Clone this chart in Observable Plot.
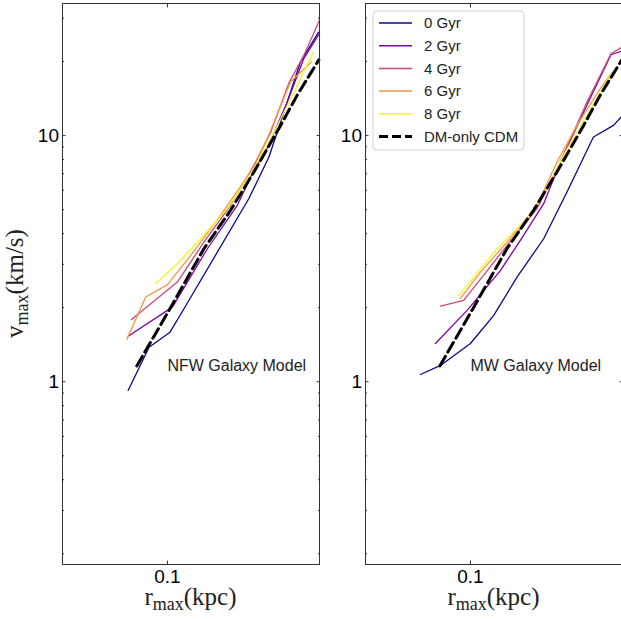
<!DOCTYPE html>
<html><head><meta charset="utf-8">
<script src="https://cdn.jsdelivr.net/npm/d3@7"></script>
<script src="https://cdn.jsdelivr.net/npm/@observablehq/plot@0.6"></script>
<style>
body{margin:0;background:#fff}
#wrap{position:relative;width:621px;height:619px;overflow:hidden;background:#fff}
.panel{position:absolute;top:0}
</style></head><body><div id="wrap"></div>
<script>
// ---- data (r_max in kpc, v_max in km/s) ----
const ages = ["0 Gyr", "2 Gyr", "4 Gyr", "6 Gyr", "8 Gyr"];
const ageColors = ["#0d0887", "#7e03a8", "#cc4778", "#f89540", "#f0f921"];
const cdmLabel = "DM-only CDM";

const nfw0 = [[0.0696,0.922],[0.0844,1.38],[0.1024,1.59],[0.1165,1.98],[0.212,5.55],[0.255,8.18],[0.275,10.3],[0.341,19.9],[0.403,26.3]];
const nfw2 = [[0.0696,1.53],[0.1047,2.01],[0.1445,3.47],[0.1905,5.21],[0.222,7.23],[0.251,8.88],[0.302,13.7],[0.352,20.6],[0.4065,26.0]];
const nfw4 = [[0.0718,1.79],[0.1096,2.54],[0.140,3.69],[0.179,5.21],[0.222,7.57],[0.259,10.3],[0.306,16.3],[0.352,21.2],[0.4065,29.4]];
const nfw6 = [[0.0688,1.49],[0.0819,2.21],[0.100,2.48],[0.124,3.26],[0.1633,4.74],[0.222,7.45],[0.251,9.72],[0.311,16.5],[0.377,19.9]];
const nfw8 = [[0.0898,2.50],[0.1096,3.02],[0.1359,3.81],[0.1738,5.05],[0.222,7.34],[0.267,10.3],[0.321,15.0],[0.384,21.8]];

const mw0 = [[0.0631,1.07],[0.0759,1.165],[0.1,1.43],[0.124,1.86],[0.1537,2.66],[0.1965,3.81],[0.2436,5.90],[0.311,9.87],[0.374,11.0],[0.4018,11.9]];
const mw2 = [[0.0724,1.43],[0.097,1.95],[0.1318,2.83],[0.1585,3.75],[0.1965,5.29],[0.229,7.81],[0.293,13.3],[0.3654,21.3],[0.4018,22.0]];
const mw4 = [[0.0759,2.03],[0.094,2.14],[0.113,2.71],[0.1402,3.58],[0.1848,5.05],[0.229,7.81],[0.293,13.7],[0.3654,21.5],[0.4018,22.8]];
const mw6 = [[0.0912,2.18],[0.1096,2.79],[0.1402,3.69],[0.1848,5.21],[0.2222,7.81],[0.2672,11.0],[0.331,15.5],[0.37,18.1]];
const mw8 = [[0.0898,2.24],[0.128,3.47],[0.1686,4.60],[0.2027,6.09],[0.236,8.32],[0.293,12.1],[0.37,18.1]];

const cdm = [[0.0754,1.16],[0.1,1.9],[0.14,3.47],[0.179,4.97],[0.222,7.11],[0.284,11.0],[0.331,14.6],[0.404,20.3]];

const xDomain = [0.038, 0.4065];
const yDomain = [0.181, 34.4];
const xMajor = [0.1];
const yMajor = [1, 10];
const yMinor = [0.2,0.3,0.4,0.5,0.6,0.7,0.8,0.9,2,3,4,5,6,7,8,9,20,30];
const panels = [
  {name: "NFW Galaxy Model", series: [nfw0, nfw2, nfw4, nfw6, nfw8], ylabel: true},
  {name: "MW Galaxy Model", series: [mw0, mw2, mw4, mw6, mw8], ylabel: false}
];
const annotPos = {r: 0.1, v: 1.16};

const wrap = document.getElementById("wrap");
const W = 330, H = 619, mL = 62, mR = 11, mT = 3, mB = 55;
const serif = "'Liberation Serif', 'DejaVu Serif', serif";
const sans = "'Liberation Sans', 'DejaVu Sans', sans-serif";

panels.forEach((p, pi) => {
  const rows = [];
  p.series.forEach((s, i) => s.forEach(([r, v]) => rows.push({age: ages[i], r, v})));
  const cdmRows = cdm.map(([r, v]) => ({r, v}));
  const chart = Plot.plot({
    width: W, height: H,
    marginLeft: mL, marginRight: mR, marginTop: mT, marginBottom: mB,
    x: {type: "log", domain: xDomain, axis: null},
    y: {type: "log", domain: yDomain, axis: null},
    color: {domain: ages, range: ageColors},
    style: {fontFamily: sans, fontSize: "19px", color: "#000", background: "transparent", overflow: "visible"},
    marks: [
      Plot.line(rows, {x: "r", y: "v", z: "age", stroke: "age", strokeWidth: 1.3}),
      Plot.line(cdmRows, {x: "r", y: "v", stroke: "#000", strokeWidth: 3, strokeDasharray: "11,5"}),
      Plot.text([{...annotPos, label: p.name}], {x: "r", y: "v", text: "label", textAnchor: "start", lineAnchor: "middle", fontSize: 16, fill: "#222"}),
      Plot.axisY(yMajor, {anchor: "left", tickSize: -3.5, tickPadding: 7, tickFormat: d => String(d), label: null, stroke: "#333"}),
      Plot.axisY(yMinor, {anchor: "left", tickSize: -2, tickFormat: () => "", label: null, stroke: "#333"}),
      Plot.axisY(yMajor, {anchor: "right", tickSize: -3.5, tickFormat: () => "", label: null, stroke: "#333"}),
      Plot.axisY(yMinor, {anchor: "right", tickSize: -2, tickFormat: () => "", label: null, stroke: "#333"}),
      Plot.axisX(xMajor, {anchor: "bottom", tickSize: -3.5, tickPadding: 8.5, tickFormat: d => String(d), label: null, stroke: "#333"}),
      Plot.axisX(xMajor, {anchor: "top", tickSize: -3.5, tickFormat: () => "", label: null, stroke: "#333"}),
      Plot.frame({stroke: "#333", strokeWidth: 1})
    ]
  });
  chart.classList.add("panel");
  chart.style.left = (pi * 303) + "px";
  wrap.appendChild(chart);
  const svg = d3.select(chart);
  // x axis label r_max(kpc)
  const cx = mL + (W - mL - mR) / 2;
  const xt = svg.append("text").attr("x", cx).attr("y", 605).attr("text-anchor", "middle")
    .attr("font-family", serif).attr("font-size", 25).attr("fill", "#222");
  xt.append("tspan").text("r");
  xt.append("tspan").attr("font-size", 18).attr("dy", 5).text("max");
  xt.append("tspan").attr("dy", -5).text("(kpc)");
  if (p.ylabel) {
    const cy = mT + (H - mT - mB) / 2;
    const yt = svg.append("text").attr("transform", `translate(23,${cy}) rotate(-90)`).attr("text-anchor", "middle")
      .attr("font-family", serif).attr("font-size", 25).attr("fill", "#222");
    yt.append("tspan").text("v");
    yt.append("tspan").attr("font-size", 18).attr("dy", 5).text("max");
    yt.append("tspan").attr("dy", -5).text("(km/s)");
  }
});

// legend (inside right panel)
const leg = d3.select(wrap).append("svg").attr("width", 154).attr("height", 142)
  .style("position", "absolute").style("left", "372px").style("top", "10px");
leg.append("rect").attr("x", 1).attr("y", 1).attr("width", 151).attr("height", 139).attr("rx", 4)
  .attr("fill", "rgba(255,255,255,0.85)").attr("stroke", "#d0d0d0");
const entries = ages.map((a, i) => ({label: a, color: ageColors[i], dash: null, w: 1.5}))
  .concat([{label: cdmLabel, color: "#000", dash: "9,4", w: 3}]);
entries.forEach((e, i) => {
  const y = 13 + i * 22.7;
  leg.append("line").attr("x1", 7).attr("x2", 40).attr("y1", y).attr("y2", y)
    .attr("stroke", e.color).attr("stroke-width", e.w).attr("stroke-dasharray", e.dash);
  leg.append("text").attr("x", 52).attr("y", y + 5.3).attr("font-family", sans).attr("font-size", 15)
    .attr("fill", "#222").text(e.label);
});
</script></body></html>
